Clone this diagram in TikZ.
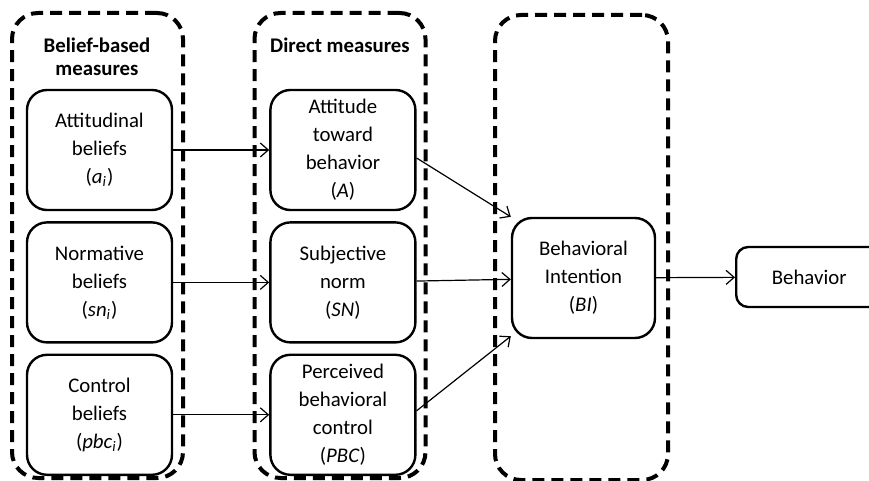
\documentclass[tikz,border=0pt]{standalone}
\usepackage{fontspec}
\setmainfont{Carlito}
\usepackage{tikz}
\usetikzlibrary{positioning, arrows.meta}

\begin{document}
\begin{tikzpicture}[
    x=0.5pt, y=-0.5pt,
    font=\fontsize{10.4}{14}\selectfont,
    node distance = 5pt and 48pt,
    construct/.style = {draw, line width=1.2pt, rounded corners=10pt, align=center, minimum width=72.5pt, minimum height=60pt, inner sep=2pt},
    groupbox/.style = {draw, line width=2pt, dash pattern=on 6pt off 3.5pt, rounded corners=13pt, minimum width=85.5pt, minimum height=232.5pt},
    heading/.style = {font=\fontsize{10.4}{11.5}\selectfont\bfseries, align=center},
    arrow/.style = {-{Straight Barb[length=4pt, width=7pt]}, line width=0.6pt}
]
    \useasboundingbox (0,0) rectangle (869,481);
    \clip (0,0) rectangle (869,481);

    % dashed groups
    \node[groupbox] (grpbelief) at (97.5,245.5) {};
    \node[groupbox] (grpdirect) at (340,245.5) {};
    \node[groupbox, minimum width=86.5pt] (grpintent) at (581.5,247.5) {};
    \node[heading] (hbelief) at (97,57) {Belief-based\\measures};
    \node[heading] (hdirect) at (340,45) {Direct measures};

    % belief-based measures
    \node[construct] (attbel) at (99.5,150) {Attitudinal\\beliefs\\(\textit{a}\textsubscript{\textit{i}})};
    \node[construct, below=of attbel] (normbel) {Normative\\beliefs\\(\textit{sn}\textsubscript{\textit{i}})};
    \node[construct, below=of normbel] (ctrlbel) {Control\\beliefs\\(\textit{pbc}\textsubscript{\textit{i}})};

    % direct measures
    \node[construct, right=of attbel] (att) {Attitude\\toward\\behavior\\(\textit{A})};
    \node[construct, right=of normbel] (sn) {Subjective\\norm\\(\textit{SN})};
    \node[construct, right=of ctrlbel] (pbc) {Perceived\\behavioral\\control\\(\textit{PBC})};

    % intention and behavior
    \node[construct, minimum width=71.5pt] (bi) at (583.5,278) {Behavioral\\Intention\\(\textit{BI})};
    \node[construct, rounded corners=6pt, minimum width=80pt, minimum height=30pt, anchor=west] (beh) at (735,277) {\hspace*{-7pt}Behavior};

    \draw[arrow] (attbel) -- (att);
    \draw[arrow] (normbel) -- (sn);
    \draw[arrow] (ctrlbel) -- (pbc);
    \draw[arrow] ([yshift=-4pt]att.east) -- (bi.north west);
    \draw[arrow] (sn) -- (bi);
    \draw[arrow] ([yshift=2pt]pbc.east) -- ([yshift=1.5pt]bi.south west);
    \draw[arrow] (bi) -- (beh);
\end{tikzpicture}
\end{document}
